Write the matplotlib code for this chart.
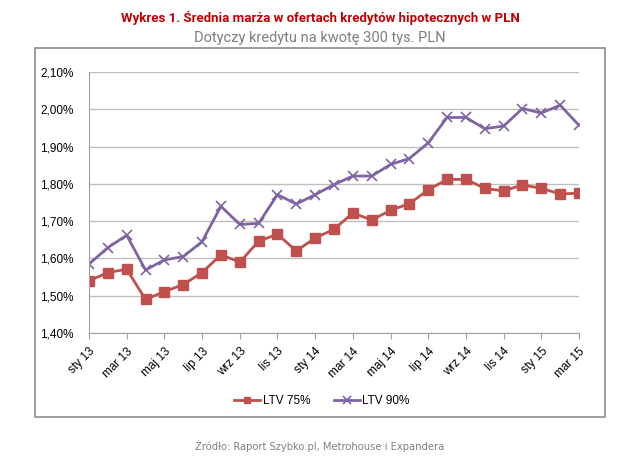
import numpy as np
import matplotlib
matplotlib.use('Agg')
import matplotlib.pyplot as plt
from matplotlib.patches import Rectangle

months = ['sty', 'lut', 'mar', 'kwi', 'maj', 'cze', 'lip', 'sie', 'wrz', 'paź', 'lis', 'gru']
labels = [f'{m} {y}' for y in ('13', '14', '15') for m in months][:27]

ltv75 = [1.540, 1.562, 1.571, 1.490, 1.511, 1.530, 1.562, 1.610, 1.590, 1.646,
         1.665, 1.620, 1.655, 1.678, 1.722, 1.703, 1.729, 1.747, 1.784, 1.812,
         1.812, 1.788, 1.781, 1.797, 1.788, 1.773, 1.775]
ltv90 = [1.585, 1.629, 1.662, 1.569, 1.596, 1.605, 1.645, 1.740, 1.691, 1.694,
         1.771, 1.746, 1.771, 1.798, 1.821, 1.821, 1.852, 1.868, 1.910, 1.978,
         1.978, 1.948, 1.955, 2.002, 1.990, 2.011, 1.957]
yticks = [1.40, 1.50, 1.60, 1.70, 1.80, 1.90, 2.00, 2.10]

plt.rcParams['font.family'] = ['Liberation Sans', 'DejaVu Sans']

fig = plt.figure(figsize=(6.4, 4.68), dpi=100)
fig.patch.set_facecolor('white')

# frame around the chart
fig.patches.append(Rectangle((35 / 640, 1 - 417 / 468), 570 / 640, 369 / 468,
                             transform=fig.transFigure, fill=False,
                             edgecolor='#8c8c8c', linewidth=1.2))

ax = fig.add_axes([89 / 640, 1 - 333 / 468, 490 / 640, 261 / 468])
x = np.arange(len(labels))
ax.plot(x, ltv75, color='#C0504D', lw=2.0, marker='s', ms=6.5, label='LTV 75%')
ax.plot(x, ltv90, color='#8064A2', lw=2.0, marker='x', ms=7.5, mew=1.2, label='LTV 90%')

ax.set_xlim(0, len(labels) - 1)
ax.set_ylim(1.40, 2.10)
ax.set_yticks(yticks)
ax.set_yticklabels([f'{v:.2f}%'.replace('.', ',') for v in yticks], fontsize=8.5)
ax.yaxis.grid(True, color='#bfbfbf', lw=1)
ax.set_axisbelow(True)
ax.tick_params(axis='y', length=0, pad=11)

ax.set_xticks(x[::2])
ax.set_xticklabels(labels[::2], rotation=45, ha='right', rotation_mode='anchor', fontsize=8.5)
ax.tick_params(axis='x', length=4, color='#a0a0a0', pad=5)

for s in ('top', 'right'):
    ax.spines[s].set_visible(False)
for s in ('left', 'bottom'):
    ax.spines[s].set_color('#a0a0a0')

ax.legend(loc='center', bbox_to_anchor=(322 / 640, 1 - 401 / 468),
          bbox_transform=fig.transFigure, ncol=2, frameon=False,
          fontsize=8.5, handlelength=2.2, columnspacing=2.0, handletextpad=0.2,
          markerscale=0.75)

fig.text(0.5, 1 - 18 / 468, 'Wykres 1. Średnia marża w ofertach kredytów hipotecznych w PLN',
         ha='center', va='center', color='#C00000', fontweight='bold', fontsize=9.5,
         family=['Roboto', 'DejaVu Sans'])
fig.text(0.5, 1 - 38 / 468, 'Dotyczy kredytu na kwotę 300 tys. PLN',
         ha='center', va='center', color='#7f7f7f', fontsize=10.5,
         family=['Roboto', 'DejaVu Sans'])
fig.text(0.5, 1 - 446 / 468, 'Źródło: Raport Szybko.pl, Metrohouse i Expandera',
         ha='center', va='center', color='#808080', fontsize=7.2, family=['DejaVu Sans'])

fig.savefig('out.png', dpi=100)
